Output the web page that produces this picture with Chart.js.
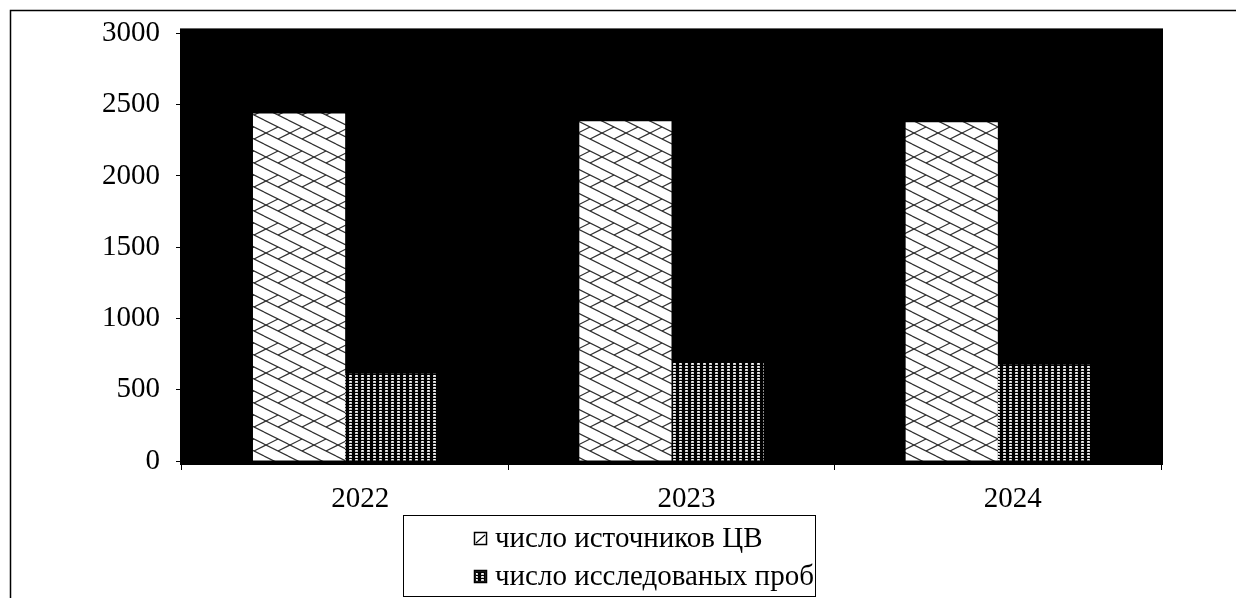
<!DOCTYPE html>
<html><head><meta charset="utf-8">
<script src="https://cdn.jsdelivr.net/npm/chart.js@4"></script>
<style>html,body{margin:0;padding:0;background:#fff;} canvas{display:block}</style>
</head><body>
<canvas id="c" width="1236" height="598"></canvas>
<script>
const categories = ['2022', '2023', '2024'];
const seriesNames = ['число источников ЦВ', 'число исследованых проб'];
const sourcesValues = [2438, 2383, 2377];
const samplesValues = [612, 695, 676];
const yTickValues = [0, 500, 1000, 1500, 2000, 2500, 3000];

const FONT_FAMILY = '"Liberation Serif", "Times New Roman", serif';
const FONT_SIZE = 29;

function makeShingle() {
  const W = 24, H = 24;
  const t = document.createElement('canvas');
  t.width = W; t.height = H;
  const g = t.getContext('2d');
  g.fillStyle = '#ffffff';
  g.fillRect(0, 0, W, H);
  g.strokeStyle = '#303030';
  g.lineWidth = 1.2;
  for (const ox of [-W, 0, W]) {
    for (const oy of [-H, 0, H]) {
      g.beginPath(); g.moveTo(ox, oy); g.lineTo(ox + W, oy + 12); g.stroke();
      g.beginPath(); g.moveTo(ox, oy + 12); g.lineTo(ox + W, oy + 24); g.stroke();
      g.beginPath(); g.moveTo(ox + 2, oy + 13); g.lineTo(ox + 14, oy + 7); g.stroke();
      g.beginPath(); g.moveTo(ox + 14, oy + 19); g.lineTo(ox + 26, oy + 13); g.stroke();
    }
  }
  return t;
}
function makeDots() {
  const W = 6, H = 3;
  const t = document.createElement('canvas');
  t.width = W; t.height = H;
  const g = t.getContext('2d');
  g.fillStyle = '#000000';
  g.fillRect(0, 0, W, H);
  g.fillStyle = '#c8c8c8';
  g.fillRect(1, 0, 3, 2);
  g.fillStyle = '#ffffff';
  g.fillRect(2, 0, 1, 1);
  return t;
}

const ctx = document.getElementById('c').getContext('2d');
const shinglePattern = ctx.createPattern(makeShingle(), 'repeat');
const dotsPattern = ctx.createPattern(makeDots(), 'repeat');
const patterns = [shinglePattern, dotsPattern];

const backgroundPlugin = {
  id: 'bgFrame',
  beforeDraw(chart) {
    const c = chart.ctx, a = chart.chartArea;
    c.save();
    c.fillStyle = '#fff';
    c.fillRect(0, 0, chart.width, chart.height);
    c.strokeStyle = '#000';
    c.lineWidth = 1.5;
    c.strokeRect(10.5, 10.5, 1400, 1000);
    c.fillStyle = '#000';
    c.fillRect(a.left - 2, a.top - 5, (a.right + 2) - (a.left - 2), (a.bottom + 4) - (a.top - 5));
    c.restore();
  }
};

const legendPlugin = {
  id: 'boxLegend',
  afterDraw(chart) {
    const c = chart.ctx;
    c.save();
    c.strokeStyle = '#000';
    c.lineWidth = 1;
    c.strokeRect(403.5, 515.5, 412, 81);
    const rows = [539, 577];
    c.font = FONT_SIZE + 'px ' + FONT_FAMILY;
    c.textBaseline = 'middle';
    c.textAlign = 'left';
    chart.data.datasets.forEach((ds, i) => {
      const y = rows[i];
      c.fillStyle = i === 0 ? '#fff' : '#222';
      c.fillRect(474, y - 7, 13, 13);
      if (i === 1) {
        c.fillStyle = ds.backgroundColor;
        c.fillRect(476, y - 5, 9, 9);
      }
      c.strokeStyle = '#000';
      c.lineWidth = 1.5;
      c.strokeRect(474.5, y - 6.5, 12, 12);
      if (i === 0) {
        c.lineWidth = 1.2;
        c.beginPath(); c.moveTo(476, y + 4); c.lineTo(485, y - 4); c.stroke();
      }
      c.fillStyle = '#000';
      c.fillText(ds.label, 495, y);
    });
    c.restore();
  }
};

new Chart(ctx, {
  type: 'bar',
  data: {
    labels: categories,
    datasets: [
      { label: seriesNames[0], data: sourcesValues, backgroundColor: patterns[0], borderWidth: 0 },
      { label: seriesNames[1], data: samplesValues, backgroundColor: patterns[1], borderWidth: 0 }
    ]
  },
  options: {
    responsive: false,
    animation: false,
    devicePixelRatio: 1,
    layout: { padding: { left: 0, top: 33, right: 75, bottom: 87 } },
    datasets: { bar: { categoryPercentage: 0.565, barPercentage: 1.0 } },
    plugins: { legend: { display: false }, tooltip: { enabled: false } },
    scales: {
      x: {
        grid: { display: true, drawOnChartArea: false, color: '#000', tickLength: 9, offset: true },
        border: { display: true, color: '#000' },
        ticks: { color: '#000', padding: 12, labelOffset: 15, font: { family: FONT_FAMILY, size: FONT_SIZE } },
        afterFit(scale) { scale.height = 50; }
      },
      y: {
        min: 0, max: 3000,
        afterBuildTicks(scale) { scale.ticks = yTickValues.map(v => ({ value: v })); },
        grid: { display: true, drawOnChartArea: false, color: '#000', tickLength: 6 },
        border: { display: true, color: '#000' },
        ticks: { color: '#000', padding: 16, font: { family: FONT_FAMILY, size: FONT_SIZE }, callback: v => String(v) },
        afterFit(scale) { scale.width = 182; }
      }
    }
  },
  plugins: [backgroundPlugin, legendPlugin]
});
</script>
</body></html>
